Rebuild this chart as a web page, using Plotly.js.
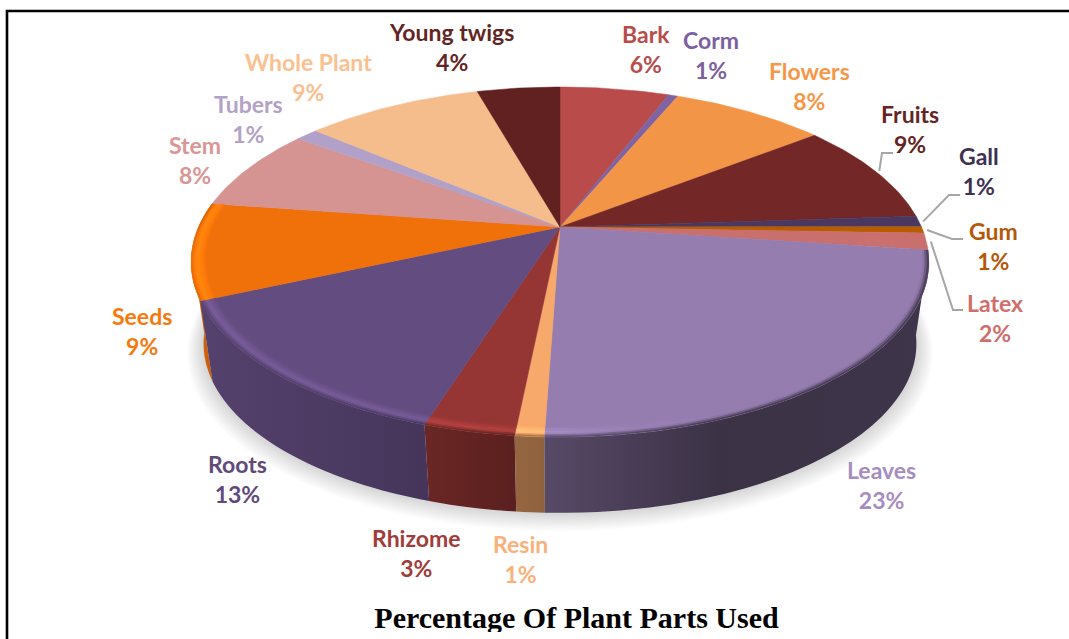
<!DOCTYPE html>
<html>
<head>
<meta charset="utf-8">
<script src="https://cdn.plot.ly/plotly-3.0.1.min.js"></script>
<style>
  html, body { margin: 0; padding: 0; background: #fff; }
  #page { position: relative; width: 1069px; height: 639px; overflow: hidden; }
  #chart { width: 1069px; height: 639px; }
  #footer-mask { position: absolute; left: 10px; right: 0; top: 632px; bottom: 0; background: #fff; }
</style>
</head>
<body>
<div id="page">
  <div id="chart"></div>
  <div id="footer-mask"></div>
</div>
<script>
// Share of plant parts used, in percent, clockwise from twelve o'clock.
const partNames  = ['Bark','Corm','Flowers','Fruits','Gall','Gum','Latex','Leaves','Resin','Rhizome','Roots','Seeds','Stem','Tubers','Whole Plant','Young twigs'];
const partValues = [5.8, 0.5, 8.2, 9.45, 1.0, 0.6, 1.55, 23.4, 1.05, 3.3, 13.45, 8.9, 7.7, 1.2, 9.4, 4.4];
const sliceColors = ['#b94b4a','#7f63a2','#f39546','#732726','#4a3860','#b85c00','#c96f6d','#957db0','#f6a96a','#963634','#634c80','#f0700a','#d59392','#b1a0c7','#f6bd8c','#612121'];
const labelColors = ['#b84c4b','#7d60a0','#f79646','#632523','#403152','#b65708','#d16d6a','#a68cc0','#fab07a','#a03c3a','#604a7b','#f57a0e','#d99694','#b3a2c7','#fac090','#632523'];
const labelX = [646,711,809,910,979,993,995,881,520,416,237,142,195,248,308,451];
const labelY = [48.5,54.5,85.5,128.5,171,246,317.5,484.5,558.5,552.5,478.5,330.5,159.5,118.5,76.5,46.5];

// Leader lines: the two points after the rim anchor, for the slices that have one.
const leaders = { Fruits: [[882,153],[893,153]], Gall: [[949,195],[960,195]], Gum: [[952,239],[963,239]], Latex: [[953,310],[963,310]] };

// Perspective projection of the disc onto the page.
const disc = { cx: 560, cy: 227, w: 361.5, h: 168, tilt: 0.2 };
const base = { scale: 0.966, drop: 83 };
function project(theta, r, scale, drop) {
  const d = 1 + disc.tilt * r * Math.cos(theta);
  return [disc.cx + scale * disc.w * r * Math.sin(theta) / d,
          disc.cy + drop - scale * disc.h * r * Math.cos(theta) / d];
}
const onTop = (t, r) => project(t, r, 1, 0);
const onBase = (t, r) => project(t, r, base.scale, base.drop);

// Slice angles.
const total = partValues.reduce((a, b) => a + b, 0);
let running = 0;
const slices = partValues.map((v, i) => {
  const a0 = running / total * 2 * Math.PI;
  running += v;
  const a1 = running / total * 2 * Math.PI;
  return { name: partNames[i], color: sliceColors[i], a0, a1, mid: (a0 + a1) / 2 };
});

// Colour helpers.
const toRgb = h => [1, 3, 5].map(k => parseInt(h.slice(k, k + 2), 16));
const css = c => 'rgb(' + c.map(v => Math.round(Math.min(255, Math.max(0, v)))).join(',') + ')';
const mix = (a, b, t) => a.map((v, k) => v + (b[k] - v) * t);

// Side-wall lighting across the page, left to right.
const shadeStops = [[190,.95],[205,.85],[430,.70],[515,.60],[550,.58],[650,.47],[720,.40],[930,.42]];
const glowStops  = [[190,1],[500,1],[620,.2],[720,0],[930,0]];
const gradFrom = 190, gradTo = 930;
const norm = x => (x - gradFrom) / (gradTo - gradFrom);

function wallScale(hex) {
  const rgb = toRgb(hex);
  return shadeStops.map(([x, f]) => [norm(x), css(rgb.map(v => v * f))]);
}
function interp(stops, x) {
  for (let i = 1; i < stops.length; i++) {
    if (x <= stops[i][0]) {
      const t = (x - stops[i-1][0]) / (stops[i][0] - stops[i-1][0]);
      return stops[i-1][1] + (stops[i][1] - stops[i-1][1]) * t;
    }
  }
  return stops[stops.length - 1][1];
}
function bevelScale(hex, t) {
  const rgb = toRgb(hex);
  const xs = [...new Set(shadeStops.concat(glowStops).map(s => s[0]))].sort((a, b) => a - b);
  return xs.map(x => {
    const lit = rgb.map(v => v * (1 + 0.22 * interp(glowStops, x)));
    const wall = rgb.map(v => v * interp(shadeStops, x));
    const col = t < 0.6 ? mix(rgb, lit, t / 0.6) : mix(lit, wall, (t - 0.6) / 0.4);
    return [norm(x), css(col)];
  });
}

const step = Math.PI / 180;
function sweep(a0, a1) {
  const n = Math.max(2, Math.ceil((a1 - a0) / step));
  return Array.from({ length: n + 1 }, (_, i) => a0 + (a1 - a0) * i / n);
}
// A curved band drawn as overlapping quads, so it stays solid at the silhouette.
function ribbon(a0, a1, edgeA, edgeB) {
  const xs = [], ys = [], ts = sweep(a0, a1);
  for (let i = 0; i < ts.length - 1; i++) {
    const tEnd = ts[Math.min(i + 2, ts.length - 1)];
    const pts = [edgeA(ts[i]), edgeA(tEnd), edgeB(tEnd), edgeB(ts[i])];
    pts.forEach(p => { xs.push(p[0]); ys.push(p[1]); });
    xs.push(pts[0][0]); ys.push(pts[0][1]);
    xs.push(null); ys.push(null);
  }
  return { xs, ys };
}

const traces = [];
const area = (x, y, extra) => traces.push(Object.assign({
  x, y, type: 'scatter', mode: 'none', fill: 'toself', hoverinfo: 'skip', showlegend: false
}, extra));

// Soft drop shadow under the disc.
for (let k = 10; k >= 1; k--) {
  const grow = 1 + 0.0046 * k, ts = sweep(0, 2 * Math.PI);
  const pts = ts.map(t => project(t, 1, base.scale * grow, base.drop + 0.9 * k));
  area(pts.map(p => p[0]), pts.map(p => p[1]), { fillcolor: 'rgba(0,0,0,0.015)' });
}

// Visible part of the wall runs from the end of Latex round to the end of Seeds.
const frontStart = slices[partNames.indexOf('Leaves')].a0;
const frontEnd = slices[partNames.indexOf('Seeds')].a1;
const frontSlices = slices.filter(s => s.a0 >= frontStart - 1e-9 && s.a1 <= frontEnd + 1e-9);

frontSlices.slice().reverse().forEach(s => {
  const r = ribbon(s.a0, s.a1, t => onTop(t, 1), t => onBase(t, 1));
  area(r.xs, r.ys, { fillgradient: { type: 'horizontal', start: gradFrom, stop: gradTo, colorscale: wallScale(s.color) } });
});

// Flat top of every slice.
slices.forEach(s => {
  const rim = sweep(s.a0, s.a1).map(t => onTop(t, 1));
  const centre = onTop(0, 0);
  const pts = [centre, ...rim, centre];
  area(pts.map(p => p[0]), pts.map(p => p[1]), { fillcolor: s.color, line: { color: s.color, width: 0.5 }, mode: 'lines' });
});

// Rounded lip between the top and the wall.
const lipRings = 7, lipInner = 0.96;
frontSlices.forEach(s => {
  for (let k = 0; k < lipRings; k++) {
    const r0 = lipInner + (1 - lipInner) * k / lipRings;
    const r1 = lipInner + (1 - lipInner) * (k + 1.3) / lipRings;
    const rb = ribbon(s.a0, s.a1, t => onTop(t, Math.min(r1, 1)), t => onTop(t, r0));
    area(rb.xs, rb.ys, { fillgradient: { type: 'horizontal', start: gradFrom, stop: gradTo, colorscale: bevelScale(s.color, (k + 0.5) / lipRings) } });
  }
});

// Leader lines from the middle of the rim arc out to the label.
Object.keys(leaders).forEach(name => {
  const s = slices[partNames.indexOf(name)];
  const start = onTop(s.mid, 1.012);
  const pts = [start, ...leaders[name]];
  traces.push({ x: pts.map(p => p[0]), y: pts.map(p => p[1]), type: 'scatter', mode: 'lines',
    line: { color: '#a6a6a6', width: 2 }, hoverinfo: 'skip', showlegend: false });
});

const annotations = partNames.map((name, i) => ({
  x: labelX[i], y: labelY[i], xref: 'x', yref: 'y', xanchor: 'center', yanchor: 'middle',
  text: name + '<br>' + Math.round(partValues[i]) + '%', showarrow: false,
  font: { family: 'Lato, "Open Sans", sans-serif', size: 23, weight: 700, color: labelColors[i] }
}));

const layout = {
  width: 1069, height: 639,
  margin: { l: 0, r: 0, t: 0, b: 0 },
  paper_bgcolor: '#fff', plot_bgcolor: '#fff',
  showlegend: false,
  title: {
    text: '<b>Percentage Of Plant Parts Used</b>',
    x: 576.5 / 1069, xanchor: 'center',
    y: 1 - 628 / 639, yanchor: 'bottom', yref: 'container',
    font: { family: '"Liberation Serif", serif', size: 30, color: '#000' }
  },
  xaxis: { visible: false, range: [0, 1069], fixedrange: true },
  yaxis: { visible: false, range: [639, 0], fixedrange: true },
  annotations,
  shapes: [{ type: 'path', xref: 'x', yref: 'y', path: 'M 7 639 L 7 11 L 1069 11', line: { color: '#000', width: 2.6 } }]
};

Plotly.newPlot('chart', traces, layout, { displayModeBar: false, staticPlot: true });
</script>
</body>
</html>
